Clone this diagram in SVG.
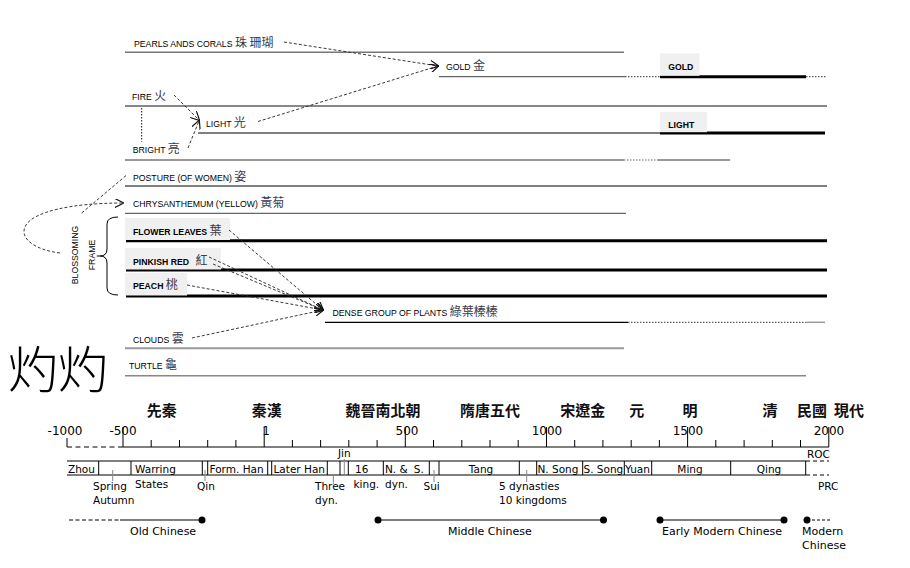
<svg xmlns="http://www.w3.org/2000/svg" width="910" height="568" viewBox="0 0 910 568">
<style>
.lbl{font-family:'Liberation Sans',Arial,sans-serif;font-size:8.7px;fill:#000}
.b{font-weight:bold}
.cj{font-family:'Noto Sans CJK TC','Noto Sans CJK SC',sans-serif;font-size:12px;fill:#3a3a48;font-weight:normal}
.tl{font-family:'DejaVu Sans',sans-serif;font-size:10.5px;fill:#000}
.num{font-family:'DejaVu Sans',sans-serif;font-size:12px;fill:#000;text-anchor:middle}
.per{font-family:'Noto Sans CJK TC','Noto Sans CJK SC',sans-serif;font-size:15px;font-weight:bold;fill:#111;text-anchor:middle}
.lang{font-family:'DejaVu Sans',sans-serif;font-size:11px;fill:#000}
.arr{fill:none;stroke:#222;stroke-width:0.9;stroke-dasharray:3,2}
.box{fill:#f0f0f0}
.thick{stroke:#000;stroke-width:3}
.sep{stroke:#000;stroke-width:1}
.tick{stroke:#888;stroke-width:1}
</style>
<defs>
<marker id="ah" viewBox="0 0 10 10" refX="9" refY="5" markerWidth="9" markerHeight="9" markerUnits="userSpaceOnUse" orient="auto">
<path d="M0,0 L10,5 L0,10" fill="none" stroke="#111" stroke-width="1.3"/>
</marker>
</defs>

<g id="rules">
<line x1="125" y1="52.3" x2="624" y2="52.3" stroke="#777" stroke-width="1.5"/>
<line x1="439" y1="76.7" x2="625" y2="76.7" stroke="#666" stroke-width="1.2"/>
<line x1="625" y1="76.7" x2="660" y2="76.7" stroke="#333" stroke-width="1" stroke-dasharray="1.5,1.5"/>
<line x1="660" y1="76.7" x2="806" y2="76.7" class="thick"/>
<line x1="806" y1="76.7" x2="827" y2="76.7" stroke="#333" stroke-width="1" stroke-dasharray="1.5,1.5"/>
<line x1="125" y1="106" x2="827" y2="106" stroke="#888" stroke-width="2"/>
<line x1="198" y1="133" x2="660" y2="133" stroke="#000" stroke-width="1.2"/>
<line x1="660" y1="133" x2="825" y2="133" class="thick"/>
<line x1="125" y1="160" x2="624" y2="160" stroke="#777" stroke-width="1.5"/>
<line x1="624" y1="160" x2="658" y2="160" stroke="#999" stroke-width="1.5" stroke-dasharray="1.5,1.5"/>
<line x1="658" y1="160" x2="730" y2="160" stroke="#777" stroke-width="1.5"/>
<line x1="125" y1="186" x2="827" y2="186" stroke="#000" stroke-width="1.2"/>
<line x1="125" y1="213.3" x2="626" y2="213.3" stroke="#666" stroke-width="1.3"/>
<line x1="126" y1="240.7" x2="827" y2="240.7" class="thick"/>
<line x1="126" y1="270" x2="827" y2="270" class="thick"/>
<line x1="126" y1="296" x2="827" y2="296" class="thick"/>
<line x1="325" y1="322.3" x2="628" y2="322.3" stroke="#000" stroke-width="1.2"/>
<line x1="628" y1="322.3" x2="807" y2="322.3" stroke="#333" stroke-width="1" stroke-dasharray="1.5,1.5"/>
<line x1="807" y1="322.3" x2="825" y2="322.3" stroke="#999" stroke-width="1.5"/>
<line x1="125" y1="348.3" x2="624" y2="348.3" stroke="#999" stroke-width="2"/>
<line x1="125" y1="375.7" x2="806" y2="375.7" stroke="#888" stroke-width="1.5"/>
</g>

<g id="node-pearls"><text class="lbl" x="134" y="46.5">PEARLS ANDS CORALS <tspan class="cj">珠 珊瑚</tspan></text></g>
<g id="node-gold"><text class="lbl" x="446" y="69.5">GOLD <tspan class="cj">金</tspan></text></g>
<g id="node-gold-box"><rect class="box" x="660" y="53.3" width="39.5" height="22.5"/><text class="lbl b" x="668.3" y="69.5">GOLD</text></g>
<g id="node-fire"><text class="lbl" x="132" y="100">FIRE <tspan class="cj">火</tspan></text></g>
<g id="node-light"><text class="lbl" x="206" y="126.5">LIGHT <tspan class="cj">光</tspan></text></g>
<g id="node-light-box"><rect class="box" x="660" y="111.7" width="47" height="20.5"/><text class="lbl b" x="668.3" y="128">LIGHT</text></g>
<g id="node-bright"><text class="lbl" x="132.7" y="153">BRIGHT <tspan class="cj">亮</tspan></text></g>
<g id="node-posture"><text class="lbl" x="133" y="180.5">POSTURE (OF WOMEN) <tspan class="cj">姿</tspan></text></g>
<g id="node-chrys"><text class="lbl" x="133" y="207">CHRYSANTHEMUM (YELLOW) <tspan class="cj">黃菊</tspan></text></g>
<g id="node-flower"><rect class="box" x="125" y="218" width="105" height="22"/><text class="lbl b" x="133" y="234.5">FLOWER LEAVES <tspan class="cj">葉</tspan></text></g>
<g id="node-pinkish"><rect class="box" x="125" y="248" width="96" height="21.5"/><text class="lbl b" x="133" y="264.5">PINKISH RED <tspan class="cj" dx="4">紅</tspan></text></g>
<g id="node-peach"><rect class="box" x="125" y="273" width="62" height="22.5"/><text class="lbl b" x="133" y="288.5">PEACH <tspan class="cj">桃</tspan></text></g>
<g id="node-dense"><text class="lbl" x="332.5" y="315.5">DENSE GROUP OF PLANTS <tspan class="cj">綠葉榛榛</tspan></text></g>
<g id="node-clouds"><text class="lbl" x="133" y="343">CLOUDS <tspan class="cj">雲</tspan></text></g>
<g id="node-turtle"><text class="lbl" x="129" y="368.5">TURTLE <tspan class="cj">龜</tspan></text></g>
<g id="node-blossoming">
<text class="lbl" transform="translate(78,255) rotate(-90)" text-anchor="middle">BLOSSOMING</text>
<text class="lbl" transform="translate(95,255) rotate(-90)" text-anchor="middle">FRAME</text>
<path d="M118,217 Q107,217 107,224 L107,249 Q107,256 100,256 Q107,256 107,263 L107,288 Q107,295 118,295" fill="none" stroke="#000" stroke-width="1"/>
<line x1="96.7" y1="256" x2="100" y2="256" stroke="#000" stroke-width="1"/>
</g>
<g id="node-title"><text x="8" y="388" font-family="'Noto Sans CJK TC','Noto Sans CJK SC',sans-serif" font-size="50" font-weight="300" fill="#000">灼灼</text></g>

<g id="connectors">
<line class="arr" x1="284" y1="42" x2="438" y2="66" marker-end="url(#ah)"/>
<line class="arr" x1="258" y1="121.5" x2="438" y2="66" marker-end="url(#ah)"/>
<line class="arr" x1="174" y1="95" x2="199" y2="120" marker-end="url(#ah)"/>
<line class="arr" x1="188" y1="148" x2="199" y2="121" marker-end="url(#ah)"/>
<line x1="141.7" y1="108" x2="141.7" y2="141.7" fill="none" stroke="#111" stroke-width="1" stroke-dasharray="1.5,1.5"/>
<line class="arr" x1="81.7" y1="213" x2="126.7" y2="175"/>
<path class="arr" d="M60,253 C35,250 18,238 26,225 C34,212 70,203 123,203" marker-end="url(#ah)"/>
<line class="arr" x1="229" y1="230" x2="323" y2="310" marker-end="url(#ah)"/>
<line class="arr" x1="209" y1="257" x2="323" y2="310" marker-end="url(#ah)"/>
<line class="arr" x1="213" y1="264" x2="323" y2="310" marker-end="url(#ah)"/>
<line class="arr" x1="187" y1="285" x2="323" y2="310" marker-end="url(#ah)"/>
<line class="arr" x1="192" y1="338" x2="323" y2="310" marker-end="url(#ah)"/>
</g>

<g id="timeline-periods">
<text class="per" x="161.7" y="416">先秦</text>
<text class="per" x="266.7" y="416">秦漢</text>
<text class="per" x="383" y="416">魏晉南北朝</text>
<text class="per" x="490" y="416">隋唐五代</text>
<text class="per" x="582.7" y="416">宋遼金</text>
<text class="per" x="636.7" y="416">元</text>
<text class="per" x="690" y="416">明</text>
<text class="per" x="770" y="416">清</text>
<text class="per" x="812" y="416">民國</text>
<text class="per" x="849" y="416">現代</text>
</g>

<g id="timeline-axis">
<text class="num" x="65" y="434.5">-1000</text>
<text class="num" x="123" y="434.5">-500</text>
<text class="num" x="266" y="434.5">1</text>
<text class="num" x="407" y="434.5">500</text>
<text class="num" x="547" y="434.5">1000</text>
<text class="num" x="688" y="434.5">1500</text>
<text class="num" x="829" y="434.5">2000</text>
<line x1="67" y1="438" x2="67" y2="447" class="sep"/>
<line x1="67" y1="447" x2="123" y2="447" stroke="#000" stroke-width="1" stroke-dasharray="5,3.5"/>
<line x1="123" y1="447" x2="829" y2="447" class="sep"/>
<path d="M123,427V447M151.2,440V447M179.5,440V447M207.7,440V447M235.9,440V447M264.2,427V447M292.4,440V447M320.6,440V447M348.8,440V447M377.1,440V447M405.3,427V447M433.5,440V447M461.8,440V447M490,440V447M518.2,440V447M546.5,427V447M574.7,440V447M602.9,440V447M631.2,440V447M659.4,440V447M687.6,427V447M715.8,440V447M744.1,440V447M772.3,440V447M800.5,440V447M828.8,427V447" stroke="#000" stroke-width="1" fill="none"/>
</g>

<g id="timeline-dynasties">
<line x1="67" y1="461" x2="806" y2="461" class="sep"/>
<line x1="67" y1="475" x2="806" y2="475" class="sep"/>
<line x1="806" y1="461" x2="829" y2="461" stroke="#000" stroke-dasharray="4,3"/>
<line x1="806" y1="475" x2="829" y2="475" stroke="#000" stroke-dasharray="4,3"/>
<path d="M98.7,461V475M131,461V475M202.3,461V475M207.7,461V475M267.7,461V475M271.7,461V475M327.3,461V475M340,461V475M348.3,461V475M383.3,461V475M429.3,461V475M439,461V475M519.3,461V475M536.7,461V475M582.7,461V475M624.3,461V475M651.7,461V475M730.7,461V475M805.7,461V475" stroke="#000" stroke-width="1" fill="none"/>
<path d="M112.7,470V481M205,470V481M333.3,475V484M344.3,459V474M434,470V482M526.7,470V482" class="tick" fill="none"/>
<text class="tl" x="68" y="473">Zhou</text>
<text class="tl" x="93" y="490">Spring</text>
<text class="tl" x="93" y="504">Autumn</text>
<text class="tl" x="135" y="473">Warring</text>
<text class="tl" x="135" y="487.5">States</text>
<text class="tl" x="197" y="490">Qin</text>
<text class="tl" x="209.5" y="473">Form. Han</text>
<text class="tl" x="273.5" y="473">Later Han</text>
<text class="tl" x="315" y="490">Three</text>
<text class="tl" x="315" y="504">dyn.</text>
<text class="tl" x="338" y="457">Jin</text>
<text class="tl" x="355" y="473">16</text>
<text class="tl" x="353.5" y="487.5">king.</text>
<text class="tl" x="385" y="473">N. &amp;<tspan dx="6">S.</tspan></text>
<text class="tl" x="385" y="487.5">dyn.</text>
<text class="tl" x="423.5" y="490">Sui</text>
<text class="tl" x="481" y="473" text-anchor="middle">Tang</text>
<text class="tl" x="499" y="490">5 dynasties</text>
<text class="tl" x="499" y="504">10 kingdoms</text>
<text class="tl" x="537.5" y="473">N. Song</text>
<text class="tl" x="583.5" y="473">S. Song</text>
<text class="tl" x="625" y="473">Yuan</text>
<text class="tl" x="690" y="473" text-anchor="middle">Ming</text>
<text class="tl" x="769" y="473" text-anchor="middle">Qing</text>
<text class="tl" x="807" y="458">ROC</text>
<text class="tl" x="818" y="490">PRC</text>
</g>

<g id="timeline-languages">
<line x1="69" y1="520" x2="120" y2="520" stroke="#000" stroke-width="1" stroke-dasharray="4,2.5"/>
<line x1="120" y1="520" x2="202" y2="520" stroke="#000" stroke-width="1.2"/>
<circle cx="202" cy="520" r="3.5" fill="#000"/>
<text class="lang" x="130" y="534.5">Old Chinese</text>
<circle cx="378" cy="520" r="3.5" fill="#000"/>
<line x1="378" y1="520" x2="603.5" y2="520" stroke="#000" stroke-width="1.2"/>
<circle cx="603.5" cy="520" r="3.5" fill="#000"/>
<text class="lang" x="448" y="534.5">Middle Chinese</text>
<circle cx="660" cy="520" r="3.5" fill="#000"/>
<line x1="660" y1="520" x2="784" y2="520" stroke="#000" stroke-width="1.2"/>
<circle cx="784" cy="520" r="3.5" fill="#000"/>
<text class="lang" x="662" y="534.5">Early Modern Chinese</text>
<circle cx="807" cy="520" r="3.5" fill="#000"/>
<line x1="807" y1="520" x2="830" y2="520" stroke="#000" stroke-width="1" stroke-dasharray="3,2"/>
<text class="lang" x="802" y="534.5">Modern</text>
<text class="lang" x="802" y="548.5">Chinese</text>
</g>
</svg>
